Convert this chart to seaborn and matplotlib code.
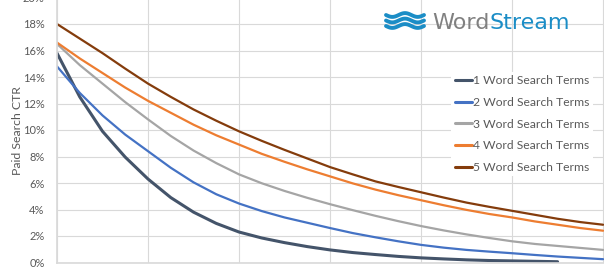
import numpy as np
import pandas as pd
import matplotlib
matplotlib.use("Agg")
import matplotlib.pyplot as plt
from matplotlib.lines import Line2D
import seaborn as sns

# ---- data ----
x_pos = [0, 0.25, 0.5, 0.75, 1, 1.25, 1.5, 1.75, 2, 2.25, 2.5, 2.75, 3,
         3.25, 3.5, 3.75, 4, 4.25, 4.5, 4.75, 5, 5.25, 5.5, 5.75, 6]
one_word = [15.8, 12.5, 9.9, 7.95, 6.3, 4.9, 3.8, 2.95, 2.3, 1.85, 1.5, 1.2, 0.95,
            0.75, 0.6, 0.46, 0.35, 0.27, 0.2, 0.15, 0.12, 0.09, 0.06, np.nan, np.nan]
two_word = [14.8, 12.8, 11.1, 9.65, 8.4, 7.15, 6.05, 5.15, 4.45, 3.88, 3.4, 3.0, 2.6,
            2.22, 1.9, 1.6, 1.33, 1.12, 0.95, 0.82, 0.7, 0.57, 0.45, 0.35, 0.25]
three_word = [16.5, 14.9, 13.5, 12.1, 10.8, 9.55, 8.45, 7.5, 6.65, 5.98, 5.4, 4.88, 4.4,
              3.95, 3.52, 3.12, 2.75, 2.42, 2.12, 1.85, 1.6, 1.4, 1.25, 1.1, 0.95]
four_word = [16.6, 15.4, 14.3, 13.2, 12.2, 11.3, 10.4, 9.6, 8.9, 8.2, 7.6, 7.03, 6.5,
             5.97, 5.5, 5.08, 4.7, 4.32, 3.97, 3.66, 3.4, 3.1, 2.85, 2.6, 2.4]
five_word = [18.0, 16.9, 15.8, 14.63, 13.5, 12.5, 11.55, 10.7, 9.9, 9.18, 8.5, 7.85, 7.2,
             6.65, 6.12, 5.7, 5.3, 4.9, 4.52, 4.2, 3.9, 3.6, 3.3, 3.05, 2.85]
series_names = ["1 Word Search Terms", "2 Word Search Terms", "3 Word Search Terms",
                "4 Word Search Terms", "5 Word Search Terms"]
y_ticks = [0, 2, 4, 6, 8, 10, 12, 14, 16, 18, 20]
y_tick_labels = ["0%", "2%", "4%", "6%", "8%", "10%", "12%", "14%", "16%", "18%", "20%"]
colors = ["#44546A", "#4472C4", "#A5A5A5", "#ED7D31", "#843C0C"]

frames = []
for name, vals in zip(series_names, [one_word, two_word, three_word, four_word, five_word]):
    frames.append(pd.DataFrame({"x": x_pos, "ctr": vals, "series": name}))
df = pd.concat(frames, ignore_index=True).dropna()

sns.set_theme(style="white")
plt.rcParams["font.family"] = ["Lato", "DejaVu Sans"]

W, H = 604, 270
fig = plt.figure(figsize=(W / 100, H / 100), dpi=100)
ax = fig.add_axes([57 / W, (H - 262.5) / H, 547 / W, 265 / H])

sns.lineplot(data=df, x="x", y="ctr", hue="series", hue_order=series_names,
             palette=colors, linewidth=1.6, ax=ax, legend=True)
for ln in ax.get_lines()[:1]:
    ln.set_linewidth(2.2)
for ln in ax.get_lines():
    ln.set_solid_joinstyle("round")

ax.set_xlim(0, 6.01)
ax.set_ylim(0, 20)
ax.set_xticks(range(7))
ax.set_xticklabels([])
ax.set_yticks(y_ticks)
ax.set_yticklabels(y_tick_labels)
ax.tick_params(axis="both", length=0, labelsize=8, colors="#595959", pad=9)
ax.grid(True, color="#D9D9D9", linewidth=0.8)
ax.set_axisbelow(True)
for s in ["top", "right"]:
    ax.spines[s].set_visible(False)
ax.spines["left"].set_color("#D9D9D9")
ax.spines["bottom"].set_color("#D9D9D9")
ax.spines["bottom"].set_linewidth(1.2)
ax.set_xlabel("")
ax.set_ylabel("Paid Search CTR", fontsize=8.8, color="#595959")
ax.yaxis.set_label_coords(-0.0615, 0.496)

handles, labels = ax.get_legend_handles_labels()
leg = ax.legend(handles, labels, loc="center left",
                bbox_to_anchor=(451 / W, (H - 124) / H), bbox_transform=fig.transFigure,
                frameon=True, fancybox=False, edgecolor="none", facecolor="white", framealpha=1,
                fontsize=8.7, handlelength=1.4, handletextpad=0.15, labelspacing=0.88,
                borderpad=0.3, borderaxespad=0)
for t in leg.get_texts():
    t.set_color("#595959")
for h in leg.get_lines():
    h.set_linewidth(2.2)

# WordStream logo (decoration)
blue = "#1B8DC6"
for i, yc in enumerate([15.0, 20.5, 26.0]):
    xs = np.linspace(386, 424, 60)
    ys = yc + 1.9 * np.sin((xs - 386) / 38 * 2 * np.pi * 1.5)
    fig.add_artist(Line2D(xs / W, (H - ys) / H, color=blue, linewidth=2.8,
                          solid_capstyle="round", transform=fig.transFigure))
t1 = fig.text(432 / W, (H - 29) / H, "Word", fontsize=16, color="#808080",
              ha="left", va="baseline", family=["DejaVu Sans"])
fig.canvas.draw()
bb = t1.get_window_extent(renderer=fig.canvas.get_renderer())
fig.text(bb.x1 / W, (H - 29) / H, "Stream", fontsize=16, color=blue,
         ha="left", va="baseline", family=["DejaVu Sans"])

fig.savefig("out.png", dpi=100)
